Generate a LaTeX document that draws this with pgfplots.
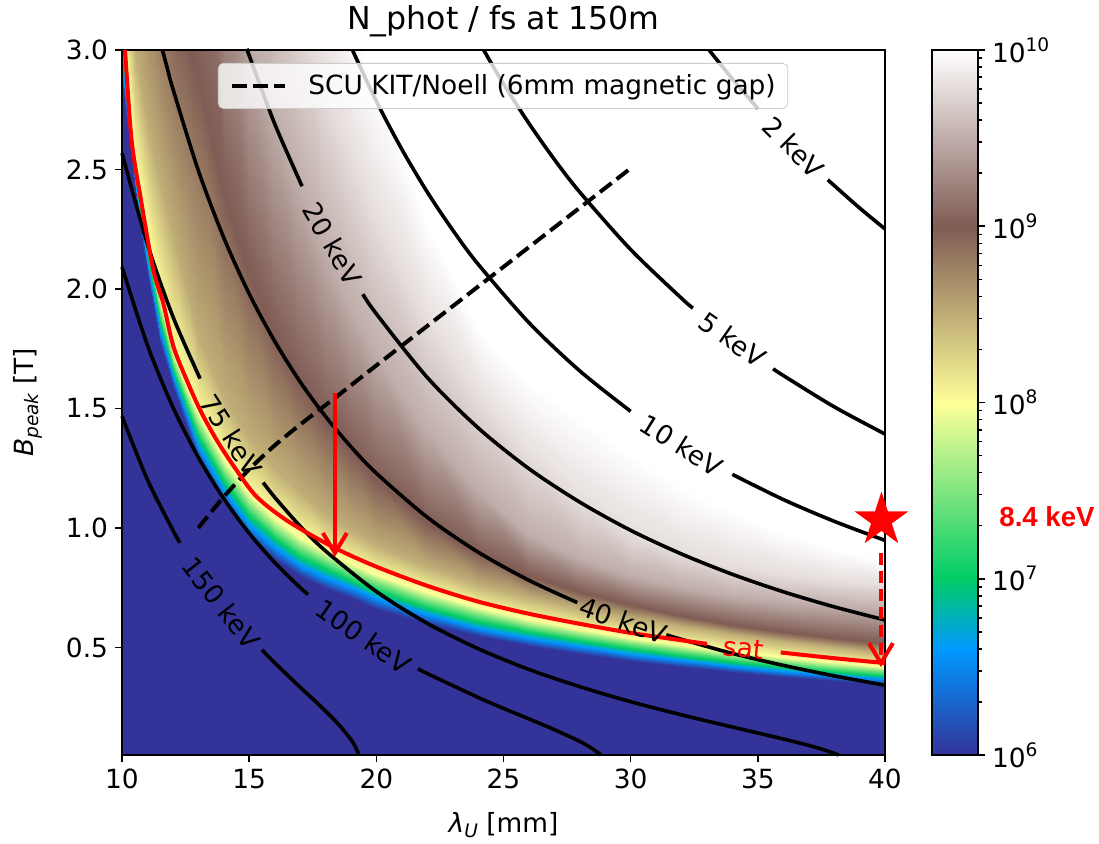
\documentclass[border=0pt]{standalone}
\usepackage{fontspec}
\setmainfont{DejaVu Sans}
\newfontfamily\arialfont{Liberation Sans}
\usepackage{pgfplots}
\pgfplotsset{compat=1.18}
\usetikzlibrary{arrows.meta}
\definecolor{tblue}{rgb}{0.2,0.2,0.6}
\pgfplotsset{colormap={terrainmpl}{rgb(0pt)=(0.2,0.2,0.6) rgb(15pt)=(0,0.6,1) rgb(25pt)=(0,0.8,0.4) rgb(50pt)=(1,1,0.6) rgb(75pt)=(0.5,0.36,0.33) rgb(100pt)=(1,1,1)}}
\pgfdeclareplotmark{fstar}{%
  \pgfpathmoveto{\pgfpointpolar{90}{\pgfplotmarksize}}%
  \pgfpathlineto{\pgfpointpolar{126}{0.382\pgfplotmarksize}}%
  \pgfpathlineto{\pgfpointpolar{162}{\pgfplotmarksize}}%
  \pgfpathlineto{\pgfpointpolar{198}{0.382\pgfplotmarksize}}%
  \pgfpathlineto{\pgfpointpolar{234}{\pgfplotmarksize}}%
  \pgfpathlineto{\pgfpointpolar{270}{0.382\pgfplotmarksize}}%
  \pgfpathlineto{\pgfpointpolar{306}{\pgfplotmarksize}}%
  \pgfpathlineto{\pgfpointpolar{342}{0.382\pgfplotmarksize}}%
  \pgfpathlineto{\pgfpointpolar{18}{\pgfplotmarksize}}%
  \pgfpathlineto{\pgfpointpolar{54}{0.382\pgfplotmarksize}}%
  \pgfpathclose
  \pgfusepathqfill}
\newcommand{\pw}[1]{10\raisebox{0.42em}{\fontsize{9.3bp}{10bp}\selectfont #1}}
\begin{document}
\begin{tikzpicture}[font=\fontsize{13.2bp}{15.8bp}\selectfont]
\useasboundingbox (0,0) rectangle (549.5bp,422bp);
\begin{axis}[
  at={(61bp,44.5bp)}, anchor=south west,
  scale only axis, width=381.5bp, height=352.5bp,
  xmin=10, xmax=40, ymin=0.05, ymax=3,
  axis on top,
  axis background/.style={fill=tblue},
  colormap name=terrainmpl,
  point meta min=6, point meta max=10,
  xtick={10,15,20,25,30,35,40}, xticklabels={10,15,20,25,30,35,40},
  ytick={0.5,1,1.5,2,2.5,3}, yticklabels={0.5,1.0,1.5,2.0,2.5,3.0},
  xtick pos=left, ytick pos=left,
  tick align=outside, major tick length=3.5bp,
  tick style={black, line width=0.8bp},
  axis line style={line width=0.9bp},
  title={N\_phot / fs at 150m},
  title style={at={(axis description cs:0.5,1)}, anchor=base, yshift=4.5bp, font=\fontsize{15.8bp}{19bp}\selectfont},
  xlabel={{\itshape λ\raisebox{-0.22em}{\fontsize{9.3bp}{10bp}\selectfont U}} [mm]},
  ylabel={{\itshape B\raisebox{-0.22em}{\fontsize{9.3bp}{10bp}\selectfont peak}} [T]},
  xlabel style={at={(axis description cs:0.5,-0.0993)}, anchor=center},
  ylabel style={at={(axis description cs:-0.1232,0.5)}, anchor=center},
]
\addplot[surf, shader=interp, mesh/rows=11, mesh/cols=24, point meta=explicit]
 table[x=l, y=b, meta=v] {
l b v
10 2.85 6
10.5 2.42 6
11 2.07 6
11.5 1.77 6
12 1.59 6
12.5 1.435 6
13 1.285 6
14 1.096 6
15 0.96 6
16 0.868 6
17 0.798 6
18 0.750 6
19 0.707 6
20 0.662 6
22 0.599 6
24 0.547 6
26 0.506 6
28 0.473 6
30 0.443 6
32 0.419 6
34 0.397 6
36 0.378 6
38 0.359 6
40 0.344 6
10 2.945 6.6
10.5 2.452 6.6
11 2.120 6.6
11.5 1.827 6.6
12 1.634 6.6
12.5 1.484 6.6
13 1.344 6.6
14 1.153 6.6
15 1.014 6.6
16 0.920 6.6
17 0.847 6.6
18 0.796 6.6
19 0.751 6.6
20 0.706 6.6
22 0.639 6.6
24 0.583 6.6
26 0.540 6.6
28 0.505 6.6
30 0.472 6.6
32 0.447 6.6
34 0.423 6.6
36 0.403 6.6
38 0.383 6.6
40 0.367 6.6
10 3.009 7
10.5 2.473 7
11 2.154 7
11.5 1.865 7
12 1.663 7
12.5 1.516 7
13 1.383 7
14 1.192 7
15 1.051 7
16 0.954 7
17 0.880 7
18 0.827 7
19 0.780 7
20 0.736 7
22 0.665 7
24 0.608 7
26 0.563 7
28 0.526 7
30 0.492 7
32 0.465 7
34 0.441 7
36 0.420 7
38 0.399 7
40 0.382 7
10 3.089 7.5
10.5 2.499 7.5
11 2.195 7.5
11.5 1.913 7.5
12 1.699 7.5
12.5 1.557 7.5
13 1.431 7.5
14 1.239 7.5
15 1.096 7.5
16 0.997 7.5
17 0.921 7.5
18 0.866 7.5
19 0.817 7.5
20 0.772 7.5
22 0.698 7.5
24 0.638 7.5
26 0.591 7.5
28 0.552 7.5
30 0.517 7.5
32 0.488 7.5
34 0.462 7.5
36 0.440 7.5
38 0.419 7.5
40 0.401 7.5
10 3.168 8
10.5 2.525 8
11 2.237 8
11.5 1.960 8
12 1.735 8
12.5 1.597 8
13 1.480 8
14 1.287 8
15 1.141 8
16 1.040 8
17 0.962 8
18 0.904 8
19 0.853 8
20 0.809 8
22 0.731 8
24 0.668 8
26 0.619 8
28 0.578 8
30 0.541 8
32 0.511 8
34 0.484 8
36 0.461 8
38 0.439 8
40 0.420 8
10 3.6 8.5
10.5 3.0 8.5
11 2.7 8.5
11.5 2.45 8.5
12 2.22 8.5
12.5 2.0 8.5
13 1.80 8.5
14 1.55 8.5
15 1.38 8.5
16 1.25 8.5
17 1.15 8.5
18 1.06 8.5
19 0.99 8.5
20 0.93 8.5
22 0.84 8.5
24 0.765 8.5
26 0.71 8.5
28 0.665 8.5
30 0.625 8.5
32 0.59 8.5
34 0.555 8.5
36 0.525 8.5
38 0.50 8.5
40 0.475 8.5
10 5.0 9
10.5 4.3 9
11 3.8 9
11.5 3.45 9
12 3.2 9
12.5 3.05 9
13 2.88 9
14 2.4 9
15 2.07 9
16 1.8 9
17 1.61 9
18 1.45 9
19 1.32 9
20 1.2 9
22 1.02 9
24 0.895 9
26 0.8 9
28 0.73 9
30 0.677 9
32 0.63 9
34 0.595 9
36 0.565 9
38 0.54 9
40 0.52 9
10 8 9.5
10.5 7.5 9.5
11 7 9.5
11.5 6.5 9.5
12 6 9.5
12.5 5.5 9.5
13 5 9.5
14 3.7 9.5
15 3.08 9.5
16 2.7 9.5
17 2.41 9.5
18 2.15 9.5
19 1.92 9.5
20 1.72 9.5
22 1.4 9.5
24 1.16 9.5
26 0.97 9.5
28 0.87 9.5
30 0.80 9.5
32 0.752 9.5
34 0.715 9.5
36 0.69 9.5
38 0.672 9.5
40 0.655 9.5
10 9 9.8
10.5 8.6 9.8
11 8.2 9.8
11.5 7.8 9.8
12 7.4 9.8
12.5 7.0 9.8
13 6.6 9.8
14 5.5 9.8
15 4.5 9.8
16 3.6 9.8
17 3.2 9.8
18 2.84 9.8
19 2.55 9.8
20 2.29 9.8
22 1.86 9.8
24 1.55 9.8
26 1.3 9.8
28 1.115 9.8
30 0.98 9.8
32 0.90 9.8
34 0.84 9.8
36 0.805 9.8
38 0.78 9.8
40 0.76 9.8
10 10 10
10.5 9.7 10
11 9.4 10
11.5 9.1 10
12 8.8 10
12.5 8.5 10
13 8.2 10
14 7.2 10
15 6.2 10
16 5.2 10
17 4.3 10
18 3.6 10
19 3.15 10
20 2.86 10
22 2.28 10
24 1.84 10
26 1.62 10
28 1.46 10
30 1.31 10
32 1.17 10
34 1.07 10
36 0.98 10
38 0.91 10
40 0.86 10
10 12 10
10.5 12 10
11 12 10
11.5 12 10
12 12 10
12.5 12 10
13 12 10
14 12 10
15 12 10
16 12 10
17 12 10
18 12 10
19 12 10
20 12 10
22 12 10
24 12 10
26 12 10
28 12 10
30 12 10
32 12 10
34 12 10
36 12 10
38 12 10
40 12 10
};
\end{axis}
% colour bar
\begin{axis}[
  at={(466bp,44.5bp)}, anchor=south west,
  scale only axis, width=23bp, height=352.5bp,
  xmin=0, xmax=1, ymin=6, ymax=10,
  axis on top,
  colormap name=terrainmpl,
  point meta min=6, point meta max=10,
  xtick=\empty,
  ytick={6,7,8,9,10},
  yticklabels={\pw{6},\pw{7},\pw{8},\pw{9},\pw{10}},
  minor ytick={6.30103,6.47712,6.60206,6.69897,6.77815,6.84510,6.90309,6.95424,
               7.30103,7.47712,7.60206,7.69897,7.77815,7.84510,7.90309,7.95424,
               8.30103,8.47712,8.60206,8.69897,8.77815,8.84510,8.90309,8.95424,
               9.30103,9.47712,9.60206,9.69897,9.77815,9.84510,9.90309,9.95424},
  ytick pos=right, yticklabel pos=right,
  tick align=outside, major tick length=3.5bp, minor tick length=2bp,
  tick style={black, line width=0.8bp},
  axis line style={line width=0.9bp},
]
\addplot[surf, shader=interp, mesh/rows=6, mesh/cols=2, point meta=explicit]
 table[x=x, y=y, meta=v] {
x y v
0 6 6
1 6 6
0 6.6 6.6
1 6.6 6.6
0 7 7
1 7 7
0 8 8
1 8 8
0 9 9
1 9 9
0 10 10
1 10 10
};
\end{axis}
\begin{axis}[
  at={(61bp,44.5bp)}, anchor=south west,
  scale only axis, width=381.5bp, height=352.5bp,
  xmin=10, xmax=40, ymin=0.05, ymax=3,
  hide axis, clip=false,
  legend style={at={(axis description cs:0.1258,0.9816)}, anchor=north west,
    draw=black!20, fill=white, fill opacity=0.8, text opacity=1, draw opacity=1,
    rounded corners=2.5bp, inner xsep=6bp, inner ysep=5.5bp,
    nodes={inner sep=0bp},
    /tikz/every odd column/.append style={column sep=10.5bp}},
  legend image code/.code={\draw[#1] (0bp,0bp) -- (26.5bp,0bp);},
]
% contour lines (photon energy)
\addplot[black, line width=1.8bp, smooth, forget plot] coordinates {(33.08,3.0) (34,2.879) (35,2.755)};
\addplot[black, line width=1.8bp, smooth, forget plot] coordinates {(37.75,2.457) (38,2.433) (39,2.339) (40,2.251)};
\addplot[black, line width=1.8bp, smooth, forget plot] coordinates {(24.22,3.0) (25,2.858) (26,2.693) (27,2.542) (28,2.405) (30,2.165) (32,1.961) (32.45,1.920)};
\addplot[black, line width=1.8bp, smooth, forget plot] coordinates {(35.6,1.666) (36,1.638) (38,1.507) (40,1.393)};
\addplot[black, line width=1.8bp, smooth, forget plot] coordinates {(19.06,3.0) (20,2.786) (21,2.585) (22,2.406) (23,2.247) (24,2.104) (26,1.859) (28,1.657) (30,1.488)};
\addplot[black, line width=1.8bp, smooth, forget plot] coordinates {(34,1.224) (36,1.119) (38,1.028) (40,0.948)};
\addplot[black, line width=1.8bp, smooth, forget plot] coordinates {(14.93,3.0) (15,2.977) (16,2.692) (17.08,2.430)};
\addplot[black, line width=1.8bp, smooth, forget plot] coordinates {(19.47,1.978) (20,1.896) (22,1.630) (24,1.419) (26,1.248) (28,1.108) (30,0.990) (32,0.891) (34,0.806) (36,0.733) (38,0.670) (40,0.615)};
\addplot[black, line width=1.8bp, smooth, forget plot] coordinates {(11.59,3.0) (11.8,2.916) (12,2.838) (13,2.496) (14,2.215) (15,1.980) (16,1.782) (17,1.612) (18,1.467) (19,1.340) (20,1.229) (22,1.045) (24,0.899) (26,0.781) (27.9,0.688)};
\addplot[black, line width=1.8bp, smooth, forget plot] coordinates {(31.4,0.553) (32,0.534) (34,0.475) (36,0.425) (38,0.381) (40,0.342)};
\addplot[black, line width=1.8bp, smooth, forget plot] coordinates {(10,2.569) (11,2.188) (12,1.885) (13.07,1.625)};
\addplot[black, line width=1.8bp, smooth, forget plot] coordinates {(15.55,1.190) (16,1.129) (17,1.008) (18,0.904) (20,0.734) (22,0.601) (24,0.495) (26,0.408) (28,0.336) (30,0.273) (32,0.218) (34,0.167) (36,0.117) (37,0.090) (37.5,0.075) (38,0.057) (38.18,0.05)};
\addplot[black, line width=1.8bp, smooth, forget plot] coordinates {(10,2.092) (11,1.765) (12,1.506) (13,1.296) (14,1.123) (15,0.978) (16,0.856) (17,0.751) (17.31,0.722)};
\addplot[black, line width=1.8bp, smooth, forget plot] coordinates {(21.64,0.411) (22,0.391) (24,0.291) (25,0.245) (26,0.201) (27,0.156) (28,0.107) (28.5,0.076) (28.83,0.05)};
\addplot[black, line width=1.8bp, smooth, forget plot] coordinates {(10,1.468) (11,1.202) (12,0.991) (12.28,0.938)};
\addplot[black, line width=1.8bp, smooth, forget plot] coordinates {(15.5,0.490) (16,0.436) (17,0.334) (17.5,0.285) (18,0.234) (18.5,0.180) (19,0.115) (19.2,0.079) (19.31,0.05)};
% SCU line
\addplot[black, line width=2bp, dash pattern=on 7.3bp off 3.2bp, smooth] coordinates {(13.0,1.0) (14.0,1.13) (15.0,1.245) (16.0,1.345) (17.0,1.432) (18.5,1.555) (20,1.68) (22,1.845) (24,2.01) (26,2.175) (28,2.34) (30,2.505)};
\addlegendentry{SCU KIT/Noell (6mm magnetic gap)}
% saturation line
\addplot[red, line width=2bp, smooth, forget plot] coordinates {(10.12,3.0) (10.38,2.62) (10.75,2.37) (11.23,2.08) (11.62,1.941) (12.02,1.76) (12.54,1.62) (13.07,1.494) (13.72,1.368) (14.5,1.242) (15.3,1.13) (16.5,1.03) (18.3,0.92) (20,0.838) (22,0.758) (24,0.692) (26,0.641) (28,0.599) (30,0.561) (32,0.530) (33,0.515)};
\addplot[red, line width=2bp, smooth, forget plot] coordinates {(35.9,0.479) (38,0.455) (40,0.435)};
% arrows and star
\addplot[red, line width=2bp, forget plot, -{Straight Barb[length=10bp,width=12bp]}] coordinates {(18.37,1.565) (18.37,0.879)};
\addplot[red, line width=2bp, dash pattern=on 6bp off 3bp, forget plot, -{Straight Barb[length=10bp,width=12bp]}] coordinates {(39.84,0.895) (39.84,0.418)};
\addplot[only marks, mark=fstar, mark size=14.25bp, mark options={fill=red, draw=red}, forget plot] coordinates {(39.86,1.033)};
% contour labels
\node[rotate=-45] at (axis cs:36.4,2.593) {2 keV};
\node[rotate=-35] at (axis cs:34.0,1.788) {5 keV};
\node[rotate=-32] at (axis cs:32.0,1.346) {10 keV};
\node[rotate=-60] at (axis cs:18.27,2.189) {20 keV};
\node[rotate=-19.5] at (axis cs:29.7,0.613) {40 keV};
\node[rotate=-57.5] at (axis cs:14.3,1.387) {75 keV};
\node[rotate=-35] at (axis cs:19.5,0.545) {100 keV};
\node[rotate=-52] at (axis cs:13.9,0.685) {150 keV};
\node[text=red, rotate=-6] at (axis cs:34.45,0.497) {sat};
\end{axis}
\node[text=red, font=\arialfont\bfseries\fontsize{13.8bp}{16bp}\selectfont] at (523.5bp,163.5bp) {8.4 keV};
\end{tikzpicture}
\end{document}
